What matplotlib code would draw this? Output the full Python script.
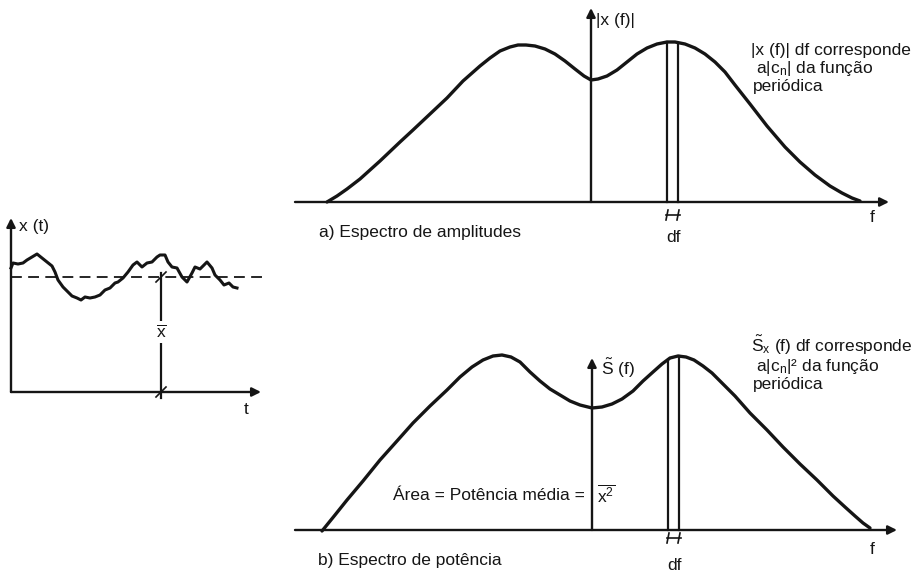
import numpy as np
import matplotlib.pyplot as plt

plt.rcParams['font.family'] = ['Liberation Sans', 'DejaVu Sans']
plt.rcParams['mathtext.fontset'] = 'custom'
plt.rcParams['mathtext.rm'] = 'Liberation Sans'
plt.rcParams['mathtext.it'] = 'Liberation Sans'

INK = '#151515'
FS = 12.5

# sinal x(t) (coordenadas do desenho, y para baixo)
sig_x = [11, 13, 18, 23, 27, 32, 37, 42, 47, 52, 55, 58, 63, 68, 72, 77, 81, 85, 90,
         95, 100, 105, 110, 115, 118, 123, 128, 133, 137, 142, 147, 152, 157, 160,
         165, 168, 172, 177, 182, 187, 192, 195, 200, 207, 212, 215, 220, 224, 229,
         233, 237]
sig_y = [268, 263, 264, 263, 260, 257, 254, 258, 262, 266, 272, 280, 287, 292, 296,
         298, 300, 297, 298, 297, 295, 290, 288, 283, 282, 278, 272, 265, 262, 267,
         263, 262, 257, 255, 255, 262, 267, 268, 277, 282, 273, 267, 269, 262, 268,
         275, 280, 285, 283, 287, 288]
x_mean = 277

# |x(f)| - espectro de amplitudes
amp_f = [327, 337, 347, 360, 380, 400, 413, 430, 447, 463, 480, 490, 500, 510, 518,
         526, 535, 545, 555, 565, 575, 584, 591, 598, 607, 617, 627, 637, 647, 657,
         667, 675, 685, 695, 705, 715, 725, 735, 750, 767, 785, 800, 815, 830, 842,
         852, 860]
amp_y = [202, 196, 189, 179, 161, 142, 130, 114, 98, 81, 66, 58, 51, 47, 45,
         45, 46, 49, 54, 61, 69, 76, 80, 79, 76, 70, 62, 54, 48, 44,
         42, 42, 44, 48, 54, 62, 72, 85, 104, 126, 147, 162, 175, 186, 193,
         198, 201]

# S(f) - espectro de potencia
pot_f = [322, 335, 347, 363, 380, 397, 413, 430, 447, 460, 472, 483, 493, 502, 511,
         520, 530, 540, 550, 560, 570, 580, 592, 602, 612, 622, 633, 643, 653, 662,
         670, 678, 686, 694, 703, 712, 722, 735, 750, 767, 783, 800, 817, 833, 845,
         855, 863, 870]
pot_y = [531, 515, 500, 481, 460, 441, 423, 406, 390, 377, 367, 360, 356, 355, 357,
         362, 372, 381, 389, 395, 401, 405, 408, 407, 404, 399, 391, 381, 372, 364,
         358, 356, 357, 360, 366, 373, 383, 396, 413, 430, 447, 464, 480, 496, 507,
         516, 523, 528]

df_strip = (667, 678)

fig = plt.figure(figsize=(9.21, 5.74), dpi=100)
ax = fig.add_axes([0, 0, 1, 1])
ax.set_xlim(0, 921)
ax.set_ylim(574, 0)
ax.axis('off')


def arrow(x0, y0, x1, y1, lw=1.7):
    ax.annotate('', xy=(x1, y1), xytext=(x0, y0),
                arrowprops=dict(arrowstyle='-|>', lw=lw, color=INK,
                                mutation_scale=13, shrinkA=0, shrinkB=0))


def df_mark(x0, x1, y, ylab):
    ax.plot([x0 - 1, x1 + 2], [y, y], color=INK, lw=1.2)
    for xx in (x0, x1):
        ax.plot([xx + 1, xx - 1], [y - 5, y + 5], color=INK, lw=1.2)
    ax.text((x0 + x1) / 2 + 1, ylab, 'df', fontsize=FS, color=INK, ha='center', va='center')


# ---- x(t) ----
base_t = 392
arrow(11, base_t, 261, base_t)
arrow(11, base_t, 11, 218)
ax.plot([11, 264], [x_mean, x_mean], color=INK, lw=1.3, dashes=(6, 3.5))
ax.plot(sig_x, sig_y, color=INK, lw=2.2, solid_joinstyle='round')
ax.plot([161, 161], [x_mean - 4, base_t + 6], color=INK, lw=1.6)
for yy in (x_mean, base_t):
    ax.plot([156, 166], [yy + 5, yy - 5], color=INK, lw=1.2)
ax.text(161, 332, r'$\overline{\mathrm{x}}$', fontsize=FS, color=INK, ha='center', va='center',
        bbox=dict(facecolor='white', edgecolor='none', pad=1.5))
ax.text(19, 227, 'x (t)', fontsize=FS, color=INK, ha='left', va='center')
ax.text(246, 409, 't', fontsize=FS, color=INK, ha='center', va='center')

# ---- a) espectro de amplitudes ----
base_a = 202
arrow(295, base_a, 889, base_a)
arrow(591, base_a, 591, 8)
ax.plot(amp_f, amp_y, color=INK, lw=2.4, solid_joinstyle='round', solid_capstyle='round')
for xx in df_strip:
    ax.plot([xx, xx], [base_a, np.interp(xx, amp_f, amp_y)], color=INK, lw=1.6)
df_mark(df_strip[0], df_strip[1], 215, 237)
ax.text(596, 21, '|x (f)|', fontsize=FS, color=INK, ha='left', va='center')
ax.text(872, 218, 'f', fontsize=FS, color=INK, ha='center', va='center')
ax.text(319, 232, 'a) Espectro de amplitudes', fontsize=FS, color=INK, ha='left', va='center')
ax.text(751, 50, '|x (f)| df corresponde', fontsize=FS, color=INK, ha='left', va='center')
ax.text(756, 68, r'a|c$_\mathrm{n}$| da função', fontsize=FS, color=INK, ha='left', va='center')
ax.text(753, 86, 'periódica', fontsize=FS, color=INK, ha='left', va='center')

# ---- b) espectro de potencia ----
base_b = 530
arrow(295, base_b, 897, base_b)
arrow(592, base_b, 592, 358)
ax.plot(pot_f, pot_y, color=INK, lw=2.4, solid_joinstyle='round', solid_capstyle='round')
for xx in (df_strip[0] + 1, df_strip[1] + 1):
    ax.plot([xx, xx], [base_b, np.interp(xx, pot_f, pot_y)], color=INK, lw=1.6)
df_mark(df_strip[0] + 1, df_strip[1] + 1, 538, 565)
ax.text(601, 368, r'$\tilde{\mathrm{S}}$ (f)', fontsize=FS, color=INK, ha='left', va='center')
ax.text(872, 550, 'f', fontsize=FS, color=INK, ha='center', va='center')
ax.text(318, 560, 'b) Espectro de potência', fontsize=FS, color=INK, ha='left', va='center')
ax.text(585, 495, 'Área = Potência média =', fontsize=FS, color=INK, ha='right', va='center')
ax.text(597, 495, r'$\overline{\mathrm{x}^2}$', fontsize=FS, color=INK, ha='left', va='center')
ax.text(751, 345, r'$\tilde{\mathrm{S}}_\mathrm{x}$ (f) df corresponde', fontsize=FS, color=INK,
        ha='left', va='center')
ax.text(756, 366, 'a|c$_\\mathrm{n}$|\u00b2 da função', fontsize=FS, color=INK,
        ha='left', va='center')
ax.text(753, 385, 'periódica', fontsize=FS, color=INK, ha='left', va='center')

fig.savefig('out.png', dpi=100, facecolor='white')
